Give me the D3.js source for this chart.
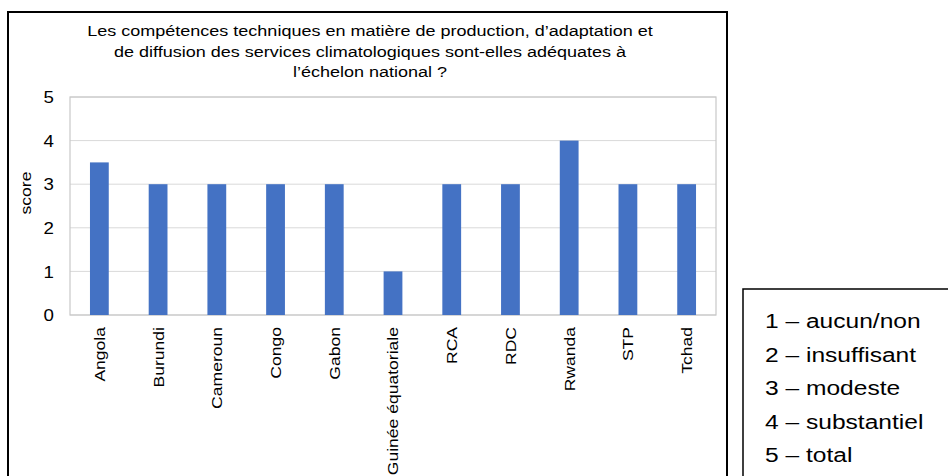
<!DOCTYPE html>
<html><head><meta charset="utf-8">
<script src="https://cdn.jsdelivr.net/npm/d3@7"></script>
<style>body{margin:0;background:#fff;}svg{display:block;font-family:"Liberation Sans",Arial,sans-serif;}</style>
</head><body>
<svg id="c" width="948" height="476"></svg>
<script>
const categories = ["Angola","Burundi","Cameroun","Congo","Gabon","Guinée équatoriale","RCA","RDC","Rwanda","STP","Tchad"];
const scores = [3.5,3,3,3,3,1,3,3,4,3,3];
const yTicks = [0,1,2,3,4,5];
const titleLines = ["Les compétences techniques en matière de production, d’adaptation et","de diffusion des services climatologiques sont-elles adéquates à","l’échelon national ?"];
const legendItems = ["1 – aucun/non","2 – insuffisant","3 – modeste","4 – substantiel","5 – total"];

const SX = 1.17; // horizontal text stretch seen in the reference
const svg = d3.select("#c");
// outer chart frame
svg.append("rect").attr("x",8).attr("y",12).attr("width",719).attr("height",480)
  .attr("fill","#fff").attr("stroke","#000").attr("stroke-width",2);

const L=70,R=716,T=97,B=315;
const x = d3.scaleBand().domain(categories).range([L,R]).paddingInner(0.68).paddingOuter(0.34);
const y = d3.scaleLinear().domain([0,5]).range([B,T]);

// gridlines
svg.append("g").selectAll("line").data(yTicks).join("line")
  .attr("x1",L).attr("x2",R).attr("y1",d=>y(d)).attr("y2",d=>y(d))
  .attr("stroke","#d9d9d9").attr("stroke-width",1);
// plot border
svg.append("rect").attr("x",L).attr("y",T).attr("width",R-L).attr("height",B-T)
  .attr("fill","none").attr("stroke","#c8c8c8").attr("stroke-width",1.2);

// bars
svg.append("g").selectAll("rect").data(categories).join("rect")
  .attr("x",d=>x(d)).attr("width",x.bandwidth())
  .attr("y",(d,i)=>y(scores[i])).attr("height",(d,i)=>B-y(scores[i]))
  .attr("fill","#4472c4");

// y axis
const ya = svg.append("g").attr("transform",`translate(${L},0)`)
  .call(d3.axisLeft(y).tickValues(yTicks).tickFormat(d3.format("d")).tickSize(0).tickPadding(0));
ya.select(".domain").remove();
ya.selectAll("text").attr("font-size",16).attr("fill","#000").attr("font-family","Liberation Sans, Arial, sans-serif")
  .attr("x",0).attr("dy","0.36em").attr("text-anchor","end")
  .attr("transform",`translate(-16,0) scale(${SX},1)`);

// x axis
const xa = svg.append("g").attr("transform",`translate(0,${B})`)
  .call(d3.axisBottom(x).tickSize(0).tickPadding(0));
xa.select(".domain").remove();
xa.selectAll("text").attr("font-size",15).attr("fill","#000").attr("font-family","Liberation Sans, Arial, sans-serif")
  .attr("x",0).attr("y",0).attr("dy","0.36em").attr("text-anchor","end")
  .attr("transform",`translate(0,12) rotate(-90) scale(${SX},1)`);

// y label
svg.append("text").attr("transform",`translate(31,193) rotate(-90) scale(${SX},1)`)
  .attr("text-anchor","middle").attr("font-size",15).attr("fill","#000").text("score");

// title
svg.append("g").selectAll("text").data(titleLines).join("text")
  .attr("transform",(d,i)=>`translate(370,${36.3+i*20.5}) scale(${SX},1)`).attr("text-anchor","middle")
  .attr("font-size",15.4).attr("fill","#000").text(d=>d);

// legend box
svg.append("rect").attr("x",743).attr("y",289).attr("width",220).attr("height",200)
  .attr("fill","#fff").attr("stroke","#000").attr("stroke-width",1.5);
svg.append("g").selectAll("text").data(legendItems).join("text")
  .attr("transform",(d,i)=>`translate(765,${328.3+i*33.5}) scale(${SX},1)`)
  .attr("font-size",21).attr("fill","#000").text(d=>d);
</script>
</body></html>
